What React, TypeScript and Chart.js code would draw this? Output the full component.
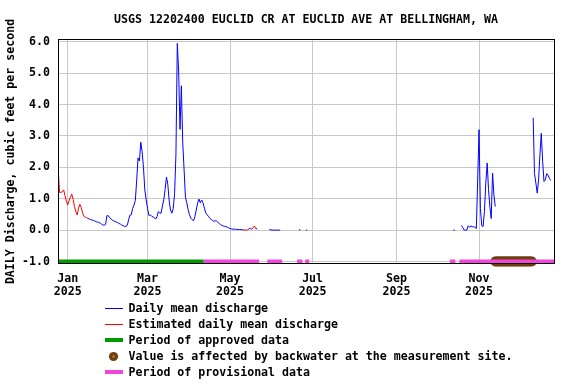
import React, { useEffect, useRef } from "react";
import { Chart, registerables } from "chart.js";

Chart.register(...registerables);

// ---------- text ----------
const TITLE = "USGS 12202400 EUCLID CR AT EUCLID AVE AT BELLINGHAM, WA";
const Y_LABEL = "DAILY Discharge, cubic feet per second";
const LEGEND_LABELS = [
  "Daily mean discharge",
  "Estimated daily mean discharge",
  "Period of approved data",
  "Value is affected by backwater at the measurement site.",
  "Period of provisional data",
];

// ---------- axes ----------
const MONTH_TICK_DATES = ["2025-01-01", "2025-03-01", "2025-05-01", "2025-07-01", "2025-09-01", "2025-11-01"];
const MONTH_TICK_LABELS = ["Jan", "Mar", "May", "Jul", "Sep", "Nov"];
const TICK_YEAR = "2025";
const Y_TICKS = [-1, 0, 1, 2, 3, 4, 5, 6];
const X_RANGE_DAYS = [-7.17, 359.4]; // days relative to 2025-01-01
const Y_RANGE = [-1.08, 6.09];

// ---------- daily mean discharge (cfs), each array starts on its date ----------
const dailyJanToMayStart = "2025-01-16";
const dailyJanToMay = [
  0.37, 0.35, 0.34, 0.32, 0.31, 0.29, 0.27, 0.25, 0.25, 0.22, 0.19, 0.16, 0.16, 0.18,
  0.46, 0.46, 0.40, 0.36, 0.32, 0.30, 0.27, 0.26, 0.24, 0.21, 0.19, 0.16, 0.14, 0.12,
  0.12, 0.15, 0.32, 0.48, 0.49, 0.69, 0.80, 0.95, 1.60, 2.30, 2.20, 2.80, 2.50, 2.00,
  1.28, 0.96, 0.69, 0.47, 0.48, 0.45, 0.42, 0.40, 0.35, 0.43, 0.59, 0.54, 0.54, 0.77,
  0.96, 1.30, 1.69, 1.45, 0.93, 0.64, 0.54, 0.69, 1.17, 2.42, 5.95, 5.07, 3.21, 4.60,
  2.80, 1.94, 1.05, 0.87, 0.65, 0.49, 0.38, 0.33, 0.30, 0.43, 0.64, 0.86, 0.99, 0.87,
  0.96, 0.87, 0.70, 0.55, 0.49, 0.44, 0.38, 0.34, 0.31, 0.28, 0.30, 0.29, 0.25, 0.21,
  0.18, 0.15, 0.13, 0.12, 0.11, 0.09, 0.07, 0.05, 0.04, 0.03, 0.03, 0.03, 0.02, 0.02,
  0.02, 0.02, 0.01, 0.01,
];
const dailyMayAStart = "2025-05-15";
const dailyMayA = [0.04, 0.06, 0.03];
const dailyMayBStart = "2025-05-20";
const dailyMayB = [0.05, 0.04];
const dailyJuneStart = "2025-05-30";
const dailyJune = [0.02, 0.01, 0.0, 0.0, 0.0, 0.0, 0.0, 0.0, 0.0];
const dailyJulyAStart = "2025-06-21";
const dailyJulyA = [0.02, 0.0];
const dailyJulyBStart = "2025-06-26";
const dailyJulyB = [0.0, 0.0];
const dailyOctStart = "2025-10-13";
const dailyOct = [0.0, 0.0];
const dailyOctNovStart = "2025-10-19";
const dailyOctNov = [
  0.15, 0.08, 0.0, 0.0, 0.0, 0.14, 0.09, 0.13, 0.11, 0.11, 0.09, 0.05, 1.60, 3.20,
  0.69, 0.14, 0.11, 0.60, 1.50, 2.14, 1.30, 0.75, 0.37, 1.82, 1.12, 0.75,
];
const dailyDecStart = "2025-12-11";
const dailyDec = [3.58, 1.80, 1.50, 1.18, 1.60, 2.40, 3.08, 2.20, 1.55, 1.60, 1.80, 1.75, 1.65, 1.58];

// ---------- estimated daily mean discharge (cfs) ----------
const estWinterStart = "2024-12-25";
const estWinter = [
  1.92, 1.20, 1.20, 1.22, 1.28, 1.10, 0.92, 0.80, 0.93, 1.05, 1.15, 0.98, 0.75, 0.59,
  0.48, 0.70, 0.82, 0.72, 0.55, 0.44, 0.41, 0.40, 0.37,
];
const estMayAStart = "2025-05-11";
const estMayA = [0.01, 0.0, 0.0, 0.01, 0.04];
const estMayBStart = "2025-05-17";
const estMayB = [0.03, 0.07, 0.13, 0.05];

// ---------- qualifier periods ----------
const FLAG_LEVEL = -1;
const approvedPeriods: [string, string][] = [["2024-12-25", "2025-04-11"]];
const provisionalPeriods: [string, string][] = [
  ["2025-04-12", "2025-05-22"],
  ["2025-05-29", "2025-06-08"],
  ["2025-06-20", "2025-06-23"],
  ["2025-06-26", "2025-06-28"],
  ["2025-10-11", "2025-10-14"],
  ["2025-10-18", "2025-12-26"],
];
const backwaterPeriod: [string, string] = ["2025-11-13", "2025-12-10"];

// ---------- colours & fonts ----------
const BLUE = "#0000ff";
const RED = "#ff0000";
const GREEN = "#009900";
const PINK = "#f046dc";
const BROWN = "#6e3f0c";
const GRID = "#c8c8c8";
const FONT_FAMILY = "'DejaVu Sans Mono', 'Liberation Mono', monospace";
const FONT_SIZE = 11.6;

function dayIndex(s: string): number {
  const [y, m, d] = s.split("-").map(Number);
  return Math.round((Date.UTC(y, m - 1, d) - Date.UTC(2025, 0, 1)) / 86400000);
}

type Pt = { x: number; y: number | null };

function buildSeries(segments: [string, number[]][]): Pt[] {
  const out: Pt[] = [];
  segments.forEach(([start, vals]) => {
    const s = dayIndex(start);
    vals.forEach((v, i) => out.push({ x: s + i, y: v }));
    out.push({ x: s + vals.length - 0.5, y: null });
  });
  return out;
}

function buildBars(ranges: [string, string][]): Pt[] {
  const out: Pt[] = [];
  ranges.forEach(([a, b]) => {
    const s = dayIndex(a) - 0.5;
    const e = dayIndex(b) + 0.5;
    out.push({ x: s, y: FLAG_LEVEL }, { x: e, y: FLAG_LEVEL }, { x: e, y: null });
  });
  return out;
}

function buildDays([a, b]: [string, string]): Pt[] {
  const out: Pt[] = [];
  for (let d = dayIndex(a); d <= dayIndex(b); d++) out.push({ x: d, y: FLAG_LEVEL });
  return out;
}

const decorPlugin = {
  id: "usgsDecor",
  afterDraw(chart: any) {
    const { ctx, chartArea } = chart;
    const font = `bold ${FONT_SIZE}px ${FONT_FAMILY}`;
    ctx.save();
    // frame
    ctx.strokeStyle = "#000";
    ctx.lineWidth = 1;
    ctx.strokeRect(chartArea.left + 0.5, chartArea.top + 0.5, chartArea.right - chartArea.left, chartArea.bottom - chartArea.top - 1);
    // title
    ctx.fillStyle = "#000";
    ctx.font = font;
    ctx.textAlign = "center";
    ctx.textBaseline = "middle";
    ctx.fillText(TITLE, (chartArea.left + chartArea.right) / 2, 20);
    // y label
    ctx.save();
    ctx.translate(14, (chartArea.top + chartArea.bottom) / 2);
    ctx.rotate(-Math.PI / 2);
    ctx.textBaseline = "alphabetic";
    ctx.fillText(Y_LABEL, 0, 0);
    ctx.restore();
    // legend
    const rowY = [309, 325, 341, 357, 373];
    const x0 = 105;
    const x1 = 123;
    ctx.textAlign = "left";
    ctx.textBaseline = "middle";
    LEGEND_LABELS.forEach((label, i) => {
      const y = rowY[i];
      if (i === 3) {
        ctx.fillStyle = BROWN;
        ctx.beginPath();
        ctx.arc(113.5, y - 0.5, 4.6, 0, Math.PI * 2);
        ctx.fill();
        ctx.fillStyle = "#b8803c";
        ctx.beginPath();
        ctx.arc(113.5, y - 0.5, 1.2, 0, Math.PI * 2);
        ctx.fill();
      } else {
        const color = [BLUE, RED, GREEN, null, PINK][i] as string;
        const w = i < 2 ? 1 : 4;
        ctx.strokeStyle = color;
        ctx.lineWidth = w;
        ctx.beginPath();
        const ly = i < 2 ? y - 0.5 : y - 1;
        ctx.moveTo(x0, ly);
        ctx.lineTo(x1, ly);
        ctx.stroke();
      }
      ctx.fillStyle = "#000";
      ctx.fillText(label, 128.5, y);
    });
    ctx.restore();
  },
};

export default function App() {
  const canvasRef = useRef<HTMLCanvasElement | null>(null);

  useEffect(() => {
    document.body.style.margin = "0";
    const canvas = canvasRef.current;
    if (!canvas) return;

    const daily = buildSeries([
      [dailyJanToMayStart, dailyJanToMay],
      [dailyMayAStart, dailyMayA],
      [dailyMayBStart, dailyMayB],
      [dailyJuneStart, dailyJune],
      [dailyJulyAStart, dailyJulyA],
      [dailyJulyBStart, dailyJulyB],
      [dailyOctStart, dailyOct],
      [dailyOctNovStart, dailyOctNov],
      [dailyDecStart, dailyDec],
    ]);
    const estimated = buildSeries([
      [estWinterStart, estWinter],
      [estMayAStart, estMayA],
      [estMayBStart, estMayB],
    ]);

    const tickFont = { family: FONT_FAMILY, size: FONT_SIZE, weight: "bold" as const, lineHeight: 1.1 };

    const chart = new Chart(canvas, {
      type: "line",
      data: {
        datasets: [
          { label: "daily", data: daily as any, borderColor: BLUE, borderWidth: 1, pointRadius: 0, spanGaps: false, order: 0 },
          { label: "estimated", data: estimated as any, borderColor: RED, borderWidth: 1, pointRadius: 0, spanGaps: false, order: 1 },
          { label: "provisional", data: buildBars(provisionalPeriods) as any, borderColor: PINK, borderWidth: 4, borderCapStyle: "butt", pointRadius: 0, spanGaps: false, order: 2 },
          { label: "approved", data: buildBars(approvedPeriods) as any, borderColor: GREEN, borderWidth: 4, borderCapStyle: "butt", pointRadius: 0, spanGaps: false, order: 3 },
          { label: "backwater", data: buildDays(backwaterPeriod) as any, showLine: false, pointRadius: 5, pointBackgroundColor: BROWN, pointBorderWidth: 0, pointHoverRadius: 5, clip: false as any, order: 4 },
        ],
      },
      options: {
        responsive: false,
        animation: false,
        events: [],
        layout: { padding: { top: 39, right: 22, left: 0, bottom: 0 } },
        plugins: { legend: { display: false }, tooltip: { enabled: false }, title: { display: false } },
        scales: {
          x: {
            type: "linear",
            min: X_RANGE_DAYS[0],
            max: X_RANGE_DAYS[1],
            afterBuildTicks: (scale: any) => {
              scale.ticks = MONTH_TICK_DATES.map((d) => ({ value: dayIndex(d) }));
            },
            afterFit: (scale: any) => {
              scale.height = 120;
            },
            ticks: {
              autoSkip: false,
              maxRotation: 0,
              padding: 9,
              color: "#000",
              font: tickFont,
              callback: (_v: any, i: number) => [MONTH_TICK_LABELS[i], TICK_YEAR],
            },
            grid: { color: GRID, lineWidth: 1, drawTicks: false },
            border: { display: false },
          },
          y: {
            type: "linear",
            min: Y_RANGE[0],
            max: Y_RANGE[1],
            afterBuildTicks: (scale: any) => {
              scale.ticks = Y_TICKS.map((v) => ({ value: v }));
            },
            afterFit: (scale: any) => {
              scale.width = 58;
            },
            ticks: {
              padding: 8,
              color: "#000",
              font: tickFont,
              callback: (v: any) => Number(v).toFixed(1),
            },
            grid: { color: GRID, lineWidth: 1, drawTicks: false },
            border: { display: false },
          },
        },
      },
      plugins: [decorPlugin],
    });

    return () => chart.destroy();
  }, []);

  return (
    <div style={{ width: 576, height: 384, background: "#fff" }}>
      <canvas ref={canvasRef} width={576} height={384} style={{ display: "block" }} />
    </div>
  );
}
